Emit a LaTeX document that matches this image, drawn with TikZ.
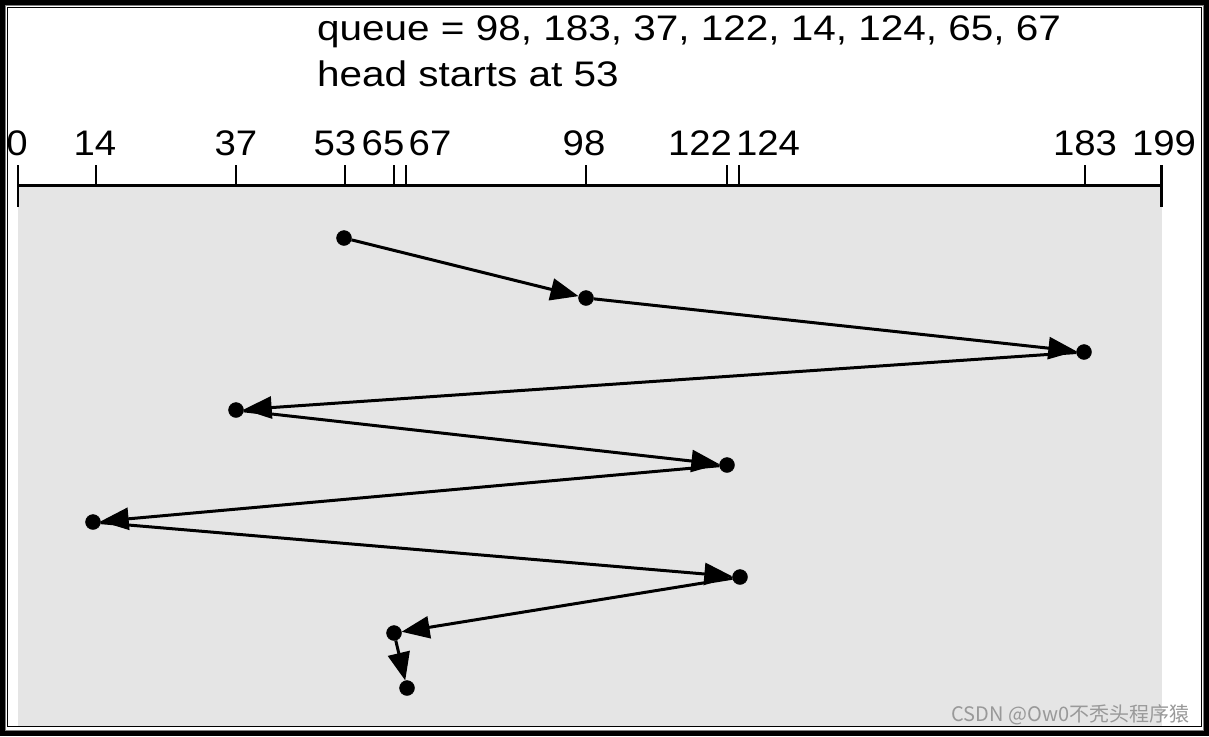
\documentclass[tikz,border=0pt]{standalone}
\usepackage{fontspec}
\setmainfont[FakeStretch=1.14]{Liberation Sans}
\newfontfamily\tickfont[FakeStretch=1.08]{Liberation Sans}
\newfontfamily\cjkfont{Noto Sans CJK SC}
\usepackage{tikz}
\usetikzlibrary{arrows.meta}

\begin{document}
\begin{tikzpicture}[x=1pt,y=-1pt,
  every node/.style={font=\fontsize{35.5}{46}\selectfont},
  seek/.style={draw=black, fill=black, circle, inner sep=0pt, minimum size=15pt},
  move/.style={line width=3pt, -{Triangle[length=28pt,width=22pt]}}]
\useasboundingbox (0,0) rectangle (1209,736);
\fill[white](0,0)rectangle(1209,736);
\fill[black!10](18,185)rectangle(1162,726);
\draw[line width=5pt](2.5,2.5)rectangle(1206.5,733.5);
\draw[gray, line width=1pt](5.5,5.5)rectangle(1203.5,730.5);
\draw[line width=1.5pt](7.5,7.5)rectangle(1201.5,726.5);
\node[anchor=base west, inner sep=0pt] (queue) at (317,40) {queue = 98, 183, 37, 122, 14, 124, 65, 67};
\node[anchor=base west, inner sep=0pt] (start) at (317,86) {head starts at 53};
\draw[line width=3pt](18,185)--(1162,185);
\draw[line width=2pt](18,165)--(18,207);
\draw[line width=3pt](1161.5,165)--(1161.5,207);
\foreach \x/\t/\l in {18/17/0, 95.7/95/14, 236.3/236/37, 345/335/53, 394.3/383/65,
  406.3/430/67, 585.7/584/98, 727.3/700/122, 738.7/768/124, 1085/1085/183, 1161.5/1164/199}
{
  \draw[line width=2pt](\x,165)--(\x,185);
  \node[anchor=base, font=\tickfont\fontsize{35.5}{40}\selectfont] (lbl\l) at (\t,155) {\l};
}
\node[seek] (c53) at (344,238) {};
\node[seek] (c98) at (586,298) {};
\node[seek] (c183) at (1084,352) {};
\node[seek] (c37) at (236,410) {};
\node[seek] (c122) at (727,465) {};
\node[seek] (c14) at (93,522) {};
\node[seek] (c124) at (740,577) {};
\node[seek] (c65) at (394,633) {};
\node[seek] (c67) at (407,688) {};
\draw[move] (c53) -- (c98);
\draw[move] (c98) -- (c183);
\draw[move] (c183) -- (c37);
\draw[move] (c37) -- (c122);
\draw[move] (c122) -- (c14);
\draw[move] (c14) -- (c124);
\draw[move] (c124) -- (c65);
\draw[move] (c65) -- (c67);
\node[anchor=base east, text=black!40, font=\cjkfont\fontsize{20}{22}\selectfont] (mark) at (1193,721) {CSDN @Ow0不秃头程序猿};
\end{tikzpicture}
\end{document}
